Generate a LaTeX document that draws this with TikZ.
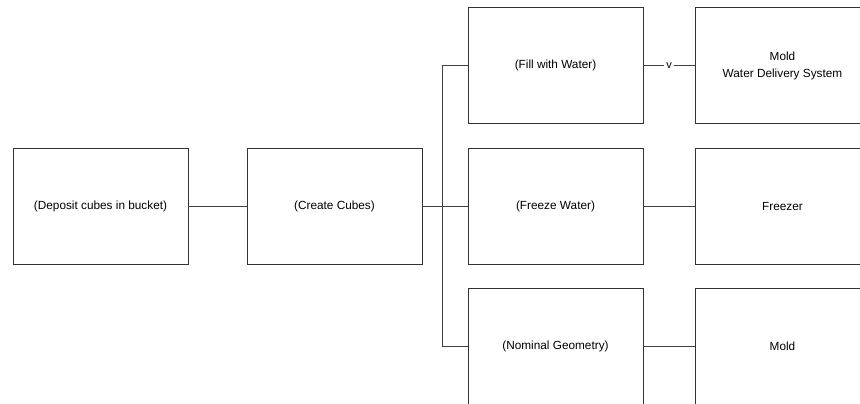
\documentclass[tikz,border=0pt]{standalone}
\usepackage{fontspec}
\setmainfont{Liberation Sans}
\begin{document}
\begin{tikzpicture}[x=1pt,y=-1pt,
    block/.style={draw=black!80, line width=0.8pt, rectangle, minimum width=175pt,
        minimum height=116pt, inner sep=0pt, align=center, font=\fontsize{11.8}{17}\selectfont},
    link/.style={draw=black!75, line width=0.8pt}]
    \useasboundingbox (0,0) rectangle (860,404);
    \clip (0,0) rectangle (860,404);
    % functions
    \node[block] (deposit) at (100.5,206) {(Deposit cubes in bucket)};
    \node[block] (create) at (334.5,206) {(Create Cubes)};
    \node[block] (fill) at (555.5,65.5) {(Fill with Water)};
    \node[block] (freeze) at (555.5,206) {(Freeze Water)};
    \node[block] (nominal) at (555.5,346) {(Nominal Geometry)};
    % components
    \node[block] (delivery) at (782.5,65.5) {Mold\\Water Delivery System};
    \node[block] (freezer) at (782.5,206) {Freezer};
    \node[block] (mold) at (782.5,346) {Mold};
    % links
    \draw[link] (deposit) -- (create);
    \draw[link] (create) -- (freeze);
    \draw[link] (fill.west) -- ++(-25,0) |- (nominal.west);
    \draw[link] (fill) -- node[fill=white, inner sep=2pt, font=\fontsize{11}{13}\selectfont] {v} (delivery);
    \draw[link] (freeze) -- (freezer);
    \draw[link] (nominal) -- (mold);
\end{tikzpicture}
\end{document}
